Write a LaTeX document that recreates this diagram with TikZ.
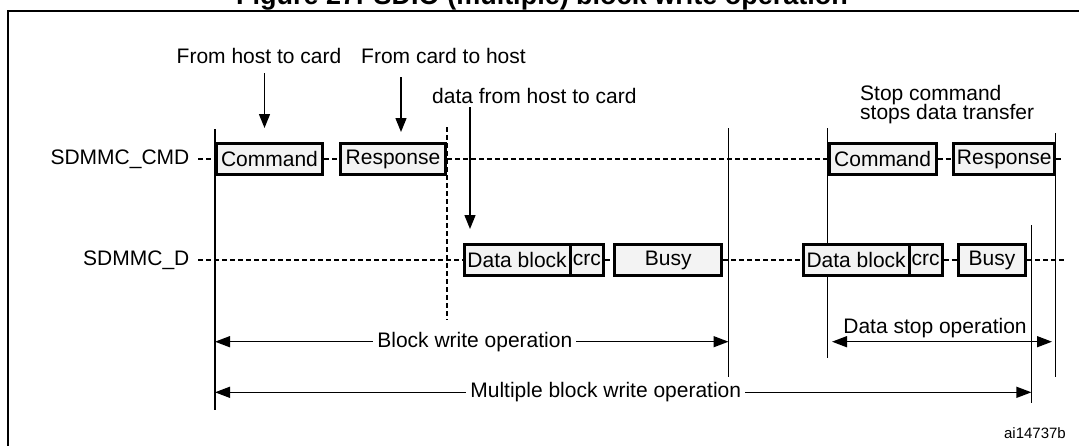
\documentclass[tikz,border=0pt]{standalone}
\usepackage{fontspec}
\setmainfont{Liberation Sans}
\usetikzlibrary{arrows.meta}
\definecolor{boxgray}{RGB}{243,243,243}
\begin{document}
\begin{tikzpicture}[x=1pt,y=-1pt,
  lbl/.style={font=\fontsize{21}{24}\selectfont, inner sep=0pt},
  siglbl/.style={font=\fontsize{21}{24}\selectfont, inner sep=0pt, outer xsep=9pt, anchor=east},
  sigbox/.style={draw=black, line width=3pt, fill=boxgray, inner sep=0pt,
    font=\fontsize{21}{24}\selectfont},
  dsh/.style={line width=1.2pt, dash pattern=on 5pt off 3pt},
  vln/.style={line width=1.4pt},
  downarrow/.style={-{Triangle[length=14pt,width=11pt]}, line width=1.4pt},
  dimarrow/.style={{Triangle[length=15pt,width=11pt]}-{Triangle[length=15pt,width=11pt]}, line width=1.4pt},
  dimlbl/.style={font=\fontsize{21}{24}\selectfont, fill=white, inner xsep=4pt, inner ysep=0pt},
]
\fill[white] (0,0) rectangle (1079,445);
\useasboundingbox (0,0) rectangle (1079,445);

% frame (partly cropped) and title
\draw[line width=2pt] (7.6,450) -- (7.6,11) -- (1090,11);
\node[font=\fontsize{27}{30}\selectfont\bfseries, inner sep=0pt, anchor=base west] (title) at (236,4)
  {Figure 27. SDIO (multiple) block write operation};

% vertical timing lines
\coordinate (v1t) at (215,129);   \coordinate (v1b) at (215,410);
\coordinate (v2t) at (447,127);   \coordinate (v2b) at (447,320);
\coordinate (v3t) at (728.5,128); \coordinate (v3b) at (728.5,377);
\coordinate (v4t) at (827.5,128); \coordinate (v4b) at (827.5,358);
\coordinate (v5t) at (1055.5,133);\coordinate (v5b) at (1055.5,377);
\coordinate (v6t) at (1031.4,225);\coordinate (v6b) at (1031.4,403);
\draw[vln] (v1t) -- (v1b);
\draw[dsh] (v2t) -- (v2b);
\draw[vln] (v3t) -- (v3b);
\draw[vln] (v4t) -- (v4b);
\draw[vln] (v5t) -- (v5b);
\draw[vln] (v6t) -- (v6b);

% signal labels
\node[siglbl] (lcmd) at (198.4,159) {SDMMC\_CMD};
\node[siglbl] (ld) at (198.4,260) {SDMMC\_D};

% CMD boxes
\node[sigbox, minimum width=106pt, minimum height=31pt] (cmd1) at (269.5,159) {Command};
\node[sigbox, minimum width=105pt, minimum height=31pt] (resp1) at (393,159) {Response};
\node[sigbox, minimum width=107pt, minimum height=31pt] (cmd2) at (882.6,159) {Command};
\node[sigbox, minimum width=101.5pt, minimum height=31pt] (resp2) at (1004.2,159) {Response};

% D boxes
\node[sigbox, minimum width=105.8pt, minimum height=31.8pt] (db1) at (517.1,260) {Data block};
\node[sigbox, minimum width=33.5pt, minimum height=31.8pt] (crc1) at (586.75,260) {crc};
\node[sigbox, minimum width=107pt, minimum height=31.8pt] (busy1) at (668.3,260) {Busy};
\node[sigbox, minimum width=105.8pt, minimum height=31.8pt] (db2) at (856.1,260) {Data block};
\node[sigbox, minimum width=33.1pt, minimum height=31.8pt] (crc2) at (925.55,260) {crc};
\node[sigbox, minimum width=67.6pt, minimum height=31.8pt] (busy2) at (992,260) {Busy};

% dashed idle lines
\coordinate (cmdend) at (1063,159);
\coordinate (dend) at (1065,260);
\draw[dsh] (lcmd.east) -- (cmd1.west);
\draw[dsh] (cmd1.east) -- (resp1.west);
\draw[dsh] (resp1.east) -- (cmd2.west);
\draw[dsh] (cmd2.east) -- (resp2.west);
\draw[dsh] (resp2.east) -- (cmdend);
\draw[dsh] (ld.east) -- (db1.west);
\draw[dsh] (crc1.east) -- (busy1.west);
\draw[dsh] (busy1.east) -- (db2.west);
\draw[dsh] (crc2.east) -- (busy2.west);
\draw[dsh] (busy2.east) -- (dend);

% annotations with arrows
\node[lbl, anchor=base] (fhc) at (259,63) {From host to card};
\node[lbl, anchor=base] (fch) at (443.5,63) {From card to host};
\node[lbl, anchor=base west] (dhc) at (432,103) {data from host to card};
\node[lbl, anchor=base west] (stop1) at (860,100) {Stop command};
\node[lbl, anchor=base west] (stop2) at (860,119.5) {stops data transfer};
\coordinate (a1s) at (264.5,73);  \coordinate (a1e) at (264.5,128);
\coordinate (a2s) at (401,77);    \coordinate (a2e) at (401,132);
\coordinate (a3s) at (470,107);   \coordinate (a3e) at (470,229);
\draw[downarrow] (a1s) -- (a1e);
\draw[downarrow] (a2s) -- (a2e);
\draw[downarrow] (a3s) -- (a3e);

% dimension arrows
\coordinate (bw1) at (215,341.7);   \coordinate (bw2) at (728.5,341.7);
\coordinate (ds1) at (832,341.7);   \coordinate (ds2) at (1052,341.7);
\coordinate (mw1) at (215,392.3);   \coordinate (mw2) at (1031.4,392.3);
\draw[dimarrow] (bw1) -- (bw2) node[dimlbl, pos=0.506] (bwl) {Block write operation};
\draw[dimarrow] (mw1) -- (mw2) node[dimlbl, pos=0.4786] (mwl) {Multiple block write operation};
\draw[dimarrow] (ds1) -- (ds2);
\node[lbl, anchor=base] (dsl) at (935,333.3) {Data stop operation};

\node[font=\fontsize{15}{18}\selectfont, inner sep=0pt, anchor=base east] (ref) at (1066,438) {ai14737b};
\end{tikzpicture}
\end{document}
